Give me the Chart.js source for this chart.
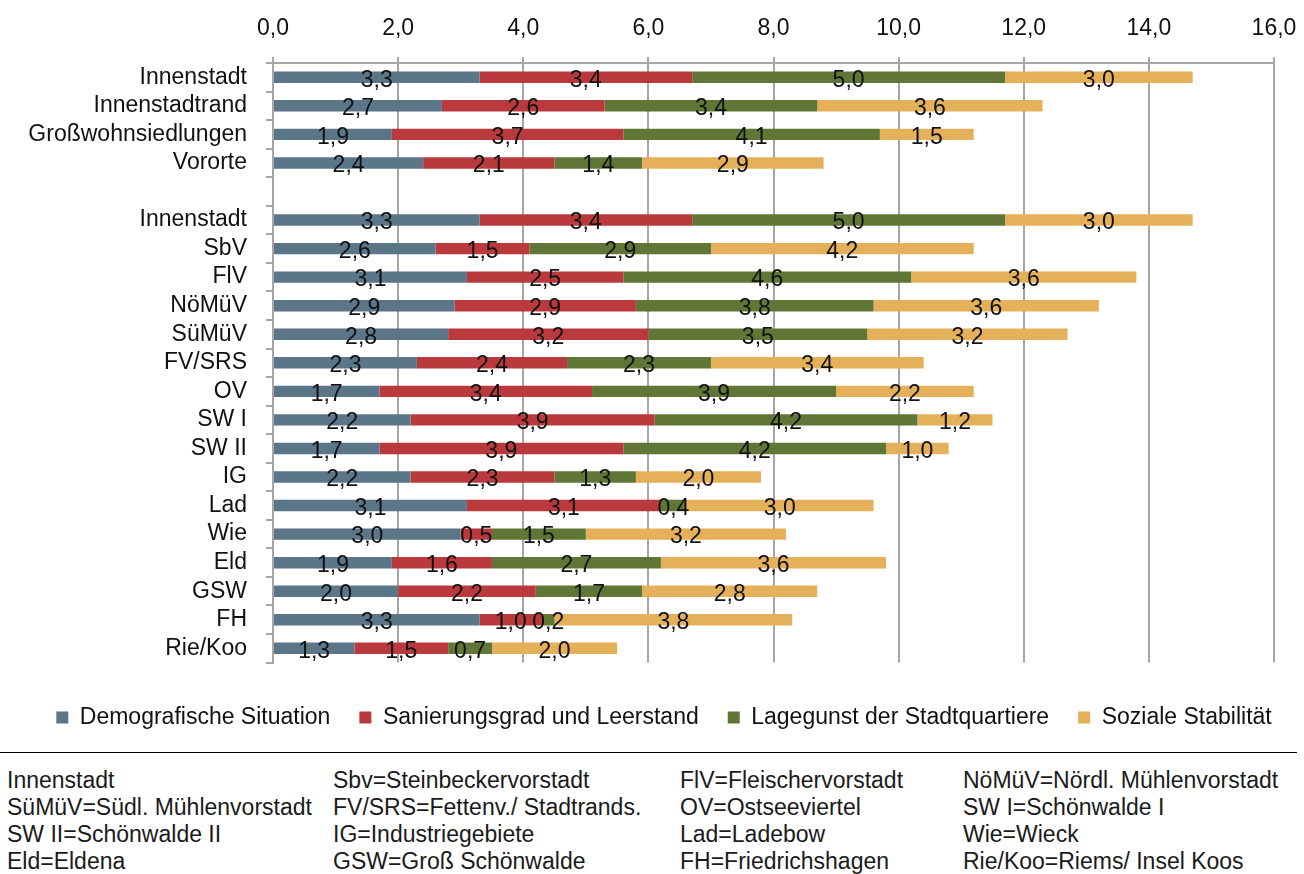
<!DOCTYPE html>
<html lang="de">
<head>
<meta charset="utf-8">
<title>Stadtteile – Teilindikatoren</title>
<script src="https://cdn.jsdelivr.net/npm/chart.js@4.4.1/dist/chart.umd.min.js"></script>
<style>
  body { margin: 0; background: #fff; font-family: "Liberation Sans", Arial, sans-serif; }
  #wrap { position: relative; width: 1304px; height: 874px; overflow: hidden; }
  #chartBox { position: absolute; left: 0; top: 0; width: 1304px; height: 739px; }
  #rule { position: absolute; left: 0; top: 752px; width: 1297px; border-top: 1.5px solid #000; }
  .abbr { position: absolute; top: 767px; font-size: 23px; line-height: 27px; color: #1a1a1a; white-space: nowrap; }
</style>
</head>
<body>
<div id="wrap">
  <div id="chartBox"><canvas id="barChart"></canvas></div>
  <div id="rule"></div>
  <div class="abbr" style="left:7px">Innenstadt<br>SüMüV=Südl. Mühlenvorstadt<br>SW II=Schönwalde II<br>Eld=Eldena</div>
  <div class="abbr" style="left:333px">Sbv=Steinbeckervorstadt<br>FV/SRS=Fettenv./ Stadtrands.<br>IG=Industriegebiete<br>GSW=Groß Schönwalde</div>
  <div class="abbr" style="left:680px">FlV=Fleischervorstadt<br>OV=Ostseeviertel<br>Lad=Ladebow<br>FH=Friedrichshagen</div>
  <div class="abbr" style="left:963px">NöMüV=Nördl. Mühlenvorstadt<br>SW I=Schönwalde I<br>Wie=Wieck<br>Rie/Koo=Riems/ Insel Koos</div>
</div>
<script>
// categories (empty entry = gap row between the two groups)
const categories = ['Innenstadt', 'Innenstadtrand', 'Großwohnsiedlungen', 'Vororte', '',
  'Innenstadt', 'SbV', 'FlV', 'NöMüV', 'SüMüV', 'FV/SRS', 'OV', 'SW I', 'SW II',
  'IG', 'Lad', 'Wie', 'Eld', 'GSW', 'FH', 'Rie/Koo'];

const demografie  = [3.3, 2.7, 1.9, 2.4, null, 3.3, 2.6, 3.1, 2.9, 2.8, 2.3, 1.7, 2.2, 1.7, 2.2, 3.1, 3.0, 1.9, 2.0, 3.3, 1.3];
const sanierung   = [3.4, 2.6, 3.7, 2.1, null, 3.4, 1.5, 2.5, 2.9, 3.2, 2.4, 3.4, 3.9, 3.9, 2.3, 3.1, 0.5, 1.6, 2.2, 1.0, 1.5];
const lagegunst   = [5.0, 3.4, 4.1, 1.4, null, 5.0, 2.9, 4.6, 3.8, 3.5, 2.3, 3.9, 4.2, 4.2, 1.3, 0.4, 1.5, 2.7, 1.7, 0.2, 0.7];
const stabilitaet = [3.0, 3.6, 1.5, 2.9, null, 3.0, 4.2, 3.6, 3.6, 3.2, 3.4, 2.2, 1.2, 1.0, 2.0, 3.0, 3.2, 3.6, 2.8, 3.8, 2.0];

const seriesNames = ['Demografische Situation', 'Sanierungsgrad und Leerstand',
  'Lagegunst der Stadtquartiere', 'Soziale Stabilität'];

const xMin = 0;
const xMax = 16;
const xStep = 2;

const FONT = '"Liberation Sans", Arial, sans-serif';
const FS = 23;
const fmt = v => Number(v).toFixed(1).replace('.', ',');

// value labels in the middle of each segment
const segmentLabels = {
  id: 'segmentLabels',
  afterDatasetsDraw(chart) {
    const ctx = chart.ctx;
    ctx.save();
    ctx.font = FS + 'px ' + FONT;
    ctx.fillStyle = '#111';
    ctx.textAlign = 'center';
    ctx.textBaseline = 'middle';
    chart.data.datasets.forEach((ds, i) => {
      chart.getDatasetMeta(i).data.forEach((bar, j) => {
        const v = ds.data[j];
        if (v == null) return;
        const c = bar.getCenterPoint();
        ctx.fillText(fmt(v), c.x, c.y + 3);
      });
    });
    ctx.restore();
  }
};

const padLeft = 24;

const ctx = document.getElementById('barChart').getContext('2d');
new Chart(ctx, {
  type: 'bar',
  data: {
    labels: categories,
    datasets: [
      { label: seriesNames[0], data: demografie,  backgroundColor: '#5b7589' },
      { label: seriesNames[1], data: sanierung,   backgroundColor: '#ba393c' },
      { label: seriesNames[2], data: lagegunst,   backgroundColor: '#5f7636' },
      { label: seriesNames[3], data: stabilitaet, backgroundColor: '#e4b059' }
    ]
  },
  options: {
    indexAxis: 'y',
    responsive: true,
    maintainAspectRatio: false,
    animation: false,
    layout: { padding: { left: padLeft, right: 0, top: 0, bottom: 0 } },
    datasets: { bar: { barPercentage: 0.4, categoryPercentage: 1.0 } },
    scales: {
      x: {
        position: 'top',
        stacked: true,
        min: xMin,
        max: xMax,
        ticks: { stepSize: xStep, callback: v => fmt(v), color: '#111', font: { family: FONT, size: FS }, padding: 15 },
        grid: { color: '#a6a6a6', lineWidth: 2, tickLength: 6 },
        border: { color: '#a6a6a6', width: 2 },
        afterFit: s => { s.height = 63; s.paddingLeft = 0; s.paddingRight = 0; }
      },
      y: {
        stacked: true,
        ticks: { color: '#111', font: { family: FONT, size: FS }, padding: 19, autoSkip: false },
        grid: { offset: true, drawOnChartArea: false, color: '#a6a6a6', lineWidth: 2, tickLength: 7 },
        border: { color: '#a6a6a6', width: 2 },
        afterFit: s => { s.width = 273 - padLeft; }
      },
      // empty right margin so the legend may use the full width
      yRight: {
        type: 'category',
        position: 'right',
        ticks: { display: false },
        grid: { display: false },
        border: { display: false },
        afterFit: s => { s.width = 30; }
      }
    },
    plugins: {
      legend: {
        position: 'bottom',
        title: { display: true, text: '', font: { size: 12 }, padding: 0 },
        labels: { boxWidth: 12, boxHeight: 12, padding: 29, color: '#111', font: { family: FONT, size: FS } }
      },
      tooltip: { enabled: false }
    }
  },
  plugins: [segmentLabels]
});
</script>
</body>
</html>
